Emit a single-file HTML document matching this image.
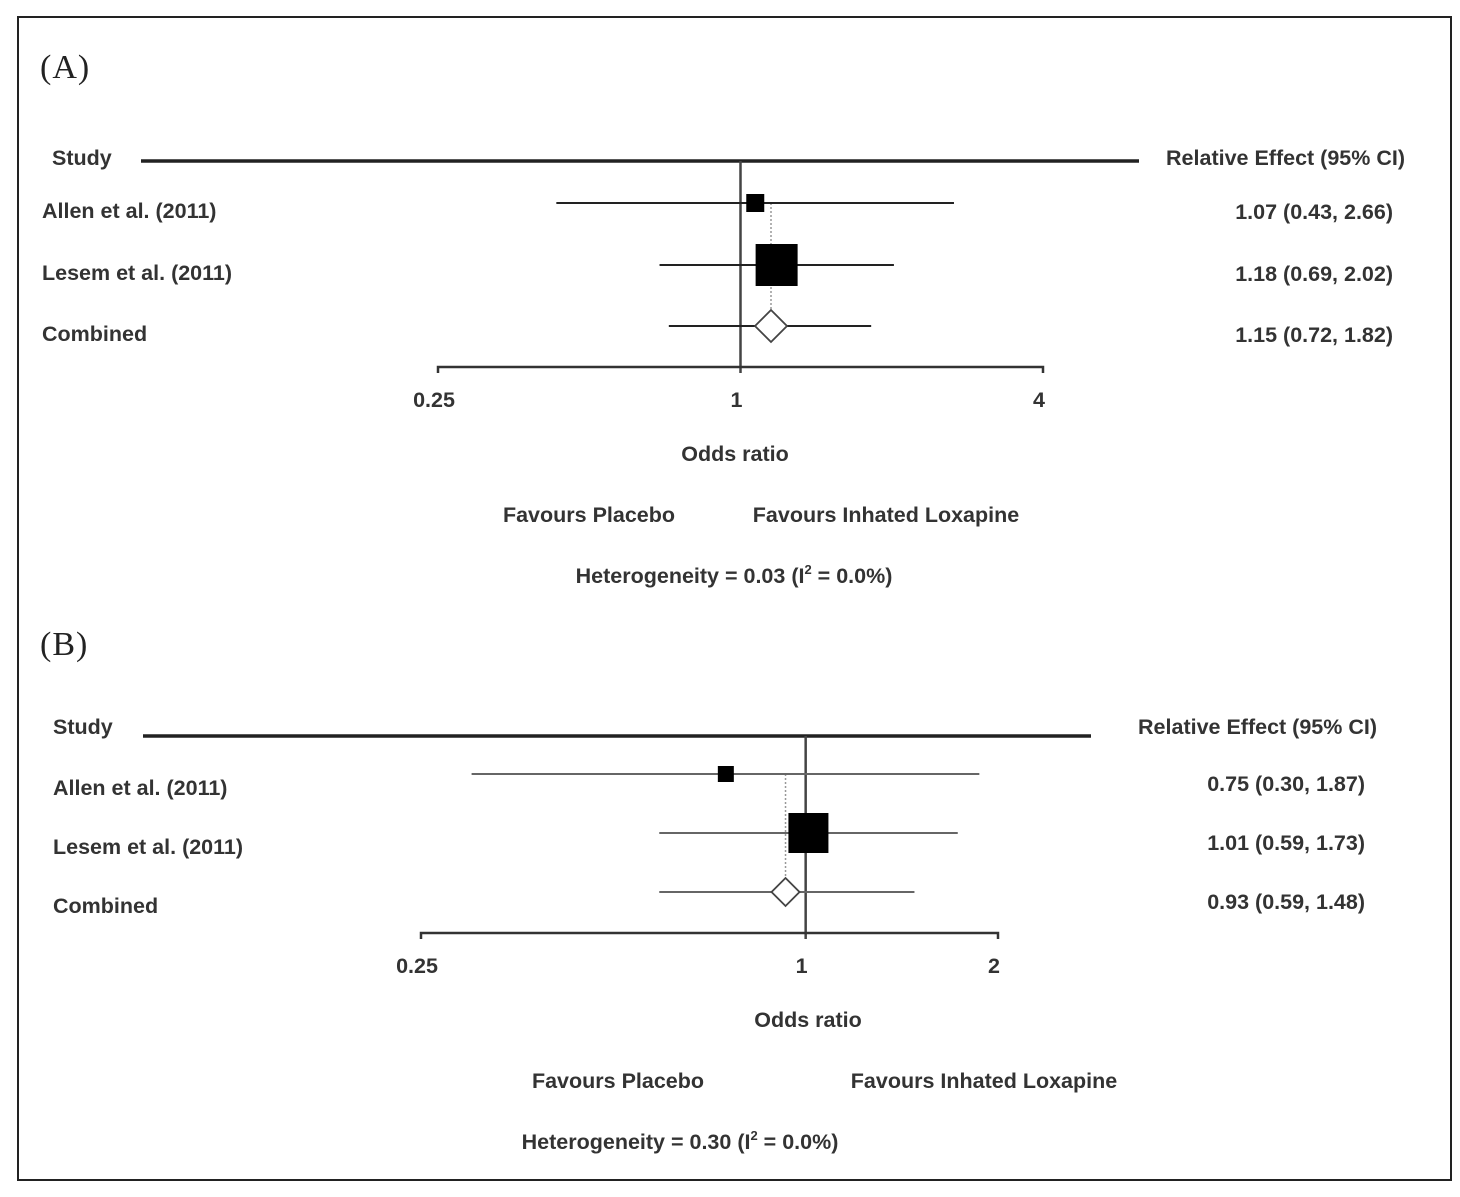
<!DOCTYPE html>
<html><head><meta charset="utf-8"><style>
body{margin:0;background:#fff;}
svg text{font-family:"Liberation Sans",sans-serif;font-weight:bold;fill:#333;font-size:21.5px;}
svg text.lab{font-family:"Liberation Serif",serif;font-weight:normal;font-size:34px;fill:#222;letter-spacing:1px;}
</style></head><body>
<svg id="c" width="1460" height="1192" xmlns="http://www.w3.org/2000/svg">
<rect x="18" y="17" width="1433" height="1163" fill="none" stroke="#222" stroke-width="2"/>
</svg>
<script>
const studiesA=["Allen et al. (2011)","Lesem et al. (2011)","Combined"];
const estA=[1.07,1.18,1.15];
const lowA=[0.43,0.69,0.72];
const highA=[2.66,2.02,1.82];
const sizeA=[18,42,32];
const ticksA=[0.25,1,4];
const studiesB=["Allen et al. (2011)","Lesem et al. (2011)","Combined"];
const estB=[0.75,1.01,0.93];
const lowB=[0.30,0.59,0.59];
const highB=[1.87,1.73,1.48];
const sizeB=[16,40,28];
const ticksB=[0.25,1,2];
const svg=document.getElementById('c');
const NS="http://www.w3.org/2000/svg";
function mk(tag,attrs,txt){const e=document.createElementNS(NS,tag);for(const k in attrs)e.setAttribute(k,attrs[k]);if(txt!==undefined)e.textContent=txt;svg.appendChild(e);return e;}
function fmt(v){return v.toFixed(2);}
function panel(p){
  const x=v=>p.x1+(Math.log2(v)-Math.log2(p.tmin))/(Math.log2(p.tmax)-Math.log2(p.tmin))*(p.x2-p.x1);
  let e;
  e=mk('text',{x:p.labX,y:p.labY,class:'lab'},p.label);
  
  
  e=mk('text',{x:p.stX,y:p.hY},'Study');
  
  
  e=mk('text',{x:p.valX,y:p.hY,'text-anchor':'end'},'Relative Effect (95% CI)');
  
  
  e=mk('line',{x1:p.hx1,x2:p.hx2,y1:p.hl,y2:p.hl,stroke:'#222','stroke-width':3.5});
  
  
  e=mk('line',{x1:x(1),x2:x(1),y1:p.hl,y2:p.axY+6,stroke:'#444','stroke-width':2.5});
  
  
  const n=p.studies.length;
  e=mk('line',{x1:x(p.est[n-1]),x2:x(p.est[n-1]),y1:p.rows[0],y2:p.rows[n-1],stroke:'#999','stroke-width':1.5,'stroke-dasharray':'2,2'});
  
  
  for(let i=0;i<n;i++){
    const y=p.rows[i];
    e=mk('text',{x:p.stX2,y:y+p.tOff},p.studies[i]);
    
    
    e=mk('text',{x:p.valX-12,y:y+p.vOff,'text-anchor':'end'},fmt(p.est[i])+' ('+fmt(p.low[i])+', '+fmt(p.high[i])+')');
    
    
    e=mk('line',{x1:x(p.low[i]),x2:x(p.high[i]),y1:y,y2:y,stroke:p.ciCol,'stroke-width':2});
    
    
    const s=p.size[i],cx=x(p.est[i]);
    if(i<n-1){
      e=mk('rect',{x:cx-s/2,y:y-s/2,width:s,height:s,fill:'#000'});
      
      
    }else{
      const h=s/2;
      e=mk('polygon',{points:`${cx-h},${y} ${cx},${y-h} ${cx+h},${y} ${cx},${y+h}`,fill:'#fff',stroke:'#444','stroke-width':1.8});
      
      
    }
  }
  e=mk('path',{d:`M${p.x1},${p.axY+6}V${p.axY}H${p.x2}V${p.axY+6}`,fill:'none',stroke:'#333','stroke-width':2.5});
  
  
  for(const t of p.ticks){
    e=mk('text',{x:x(t)-4,y:p.axY+40,'text-anchor':'middle'},String(t));
    
    
  }
  e=mk('text',{x:p.orX,y:p.axY+94,'text-anchor':'middle'},'Odds ratio');
  
  
  e=mk('text',{x:p.fpX,y:p.axY+155,'text-anchor':'middle'},'Favours Placebo');
  
  
  e=mk('text',{x:p.flX,y:p.axY+155,'text-anchor':'middle'},'Favours Inhated Loxapine');
  
  
  e=mk('text',{x:p.hetX,y:p.axY+216,'text-anchor':'middle'});
  
  
  e.innerHTML='Heterogeneity = '+p.het+' (I<tspan dy="-9" font-size="13">2</tspan><tspan dy="9"> = 0.0%)</tspan>';
}
panel({label:'(A)',labX:40,labY:78,stX:52,stX2:42,hY:165,valX:1405,hl:161,hx1:141,hx2:1139,
  x1:438,x2:1043,tmin:0.25,tmax:4,axY:367,rows:[203,265,326],tOff:15,vOff:16,ciCol:'#222',
  studies:studiesA,est:estA,low:lowA,high:highA,size:sizeA,ticks:ticksA,
  orX:735,fpX:589,flX:886,hetX:734,het:'0.03'});
panel({label:'(B)',labX:40,labY:655,stX:53,stX2:53,hY:734,valX:1377,hl:736,hx1:143,hx2:1091,
  x1:421,x2:998,tmin:0.25,tmax:2,axY:933,rows:[774,833,892],tOff:21,vOff:17,ciCol:'#666',
  studies:studiesB,est:estB,low:lowB,high:highB,size:sizeB,ticks:ticksB,
  orX:808,fpX:618,flX:984,hetX:680,het:'0.30'});
</script>
</body></html>
